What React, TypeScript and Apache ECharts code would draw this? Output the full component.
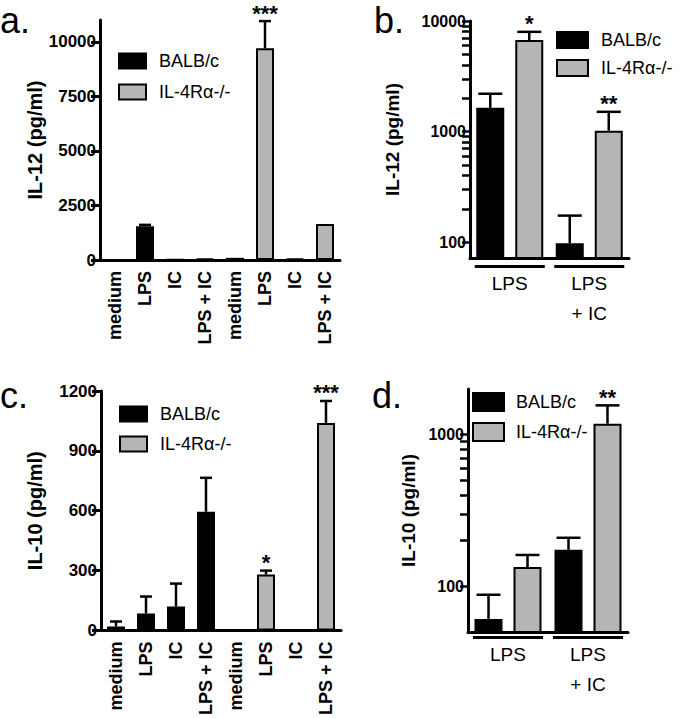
import React, { useEffect, useRef } from "react";
import * as echarts from "echarts";

const FONT = '"Liberation Sans", Arial, Helvetica, sans-serif';
const GREY = "#b5b5b5";

// Panel a: IL-12 (linear)
const catsAC = ["medium", "LPS", "IC", "LPS + IC", "medium", "LPS", "IC", "LPS + IC"];
const il12BalbA = [null, 1550, 30, 60, null, null, null, null];
const il12BalbAErr = [null, 1610, null, null, null, null, null, null];
const il12KoA = [null, null, null, null, 100, 9700, 60, 1650];
const il12KoAErr = [null, null, null, null, null, 10950, null, null];
const il12StarsA = ["", "", "", "", "", "***", "", ""];
const ticksA = [0, 2500, 5000, 7500, 10000];

// Panel b: IL-12 (log)
const catsBD = ["LPS", "LPS + IC"];
const il12BalbB = [1640, 98];
const il12BalbBErr = [2200, 174];
const il12KoB = [6730, 1020];
const il12KoBErr = [7980, 1510];
const il12StarsB = ["*", "**"];
const majorB = [100, 1000, 10000];
const minorB = [200, 300, 400, 500, 600, 700, 800, 900, 2000, 3000, 4000, 5000, 6000, 7000, 8000, 9000];

// Panel c: IL-10 (linear)
const il10BalbC = [20, 85, 120, 595, null, null, null, null];
const il10BalbCErr = [45, 170, 235, 765, null, null, null, null];
const il10KoC = [null, null, null, null, null, 280, null, 1040];
const il10KoCErr = [null, null, null, null, null, 300, null, 1150];
const il10StarsC = ["", "", "", "", "", "*", "", "***"];

// Panel d: IL-10 (log)
const il10BalbD = [61, 174];
const il10BalbDErr = [88, 209];
const il10KoD = [134, 1180];
const il10KoDErr = [161, 1560];
const il10StarsD = ["", "**"];
const majorD = [100, 1000];
const minorD = [200, 300, 400, 500, 600, 700, 800, 900];

const NAMES = ["BALB/c", "IL-4R\u03b1-/-"];

function toBar(arr: (number | null)[]) {
  return arr.map((v) => (v == null ? "-" : v));
}

function errRows(means: (number | null)[], errs: (number | null)[], side: number) {
  const rows: number[][] = [];
  means.forEach((m, i) => {
    if (m != null && errs[i] != null) rows.push([i, m, errs[i] as number, side]);
  });
  return rows;
}

function starRows(means: (number | null)[], errs: (number | null)[], stars: string[], side: number) {
  const rows: any[] = [];
  means.forEach((m, i) => {
    if (stars[i]) rows.push([i, (errs[i] ?? m) as number, side, stars[i]]);
  });
  return rows;
}

function errSeries(xi: number, yi: number, rows: number[][], offset: number, capW: number) {
  return {
    type: "custom",
    xAxisIndex: xi,
    yAxisIndex: yi,
    silent: true,
    z: 5,
    encode: { x: 0, y: [1, 2] },
    data: rows,
    renderItem: (params: any, api: any) => {
      const x = api.value(0);
      const p0 = api.coord([x, api.value(1)]);
      const p1 = api.coord([x, api.value(2)]);
      const cx = p0[0] + api.value(3) * offset;
      return {
        type: "group",
        children: [
          { type: "line", shape: { x1: cx, y1: p0[1], x2: cx, y2: p1[1] }, style: { stroke: "#000", lineWidth: 2.5 } },
          { type: "line", shape: { x1: cx - capW / 2, y1: p1[1], x2: cx + capW / 2, y2: p1[1] }, style: { stroke: "#000", lineWidth: 2.5 } },
        ],
      };
    },
  };
}

function starSeries(xi: number, yi: number, rows: any[], offset: number) {
  return {
    type: "custom",
    xAxisIndex: xi,
    yAxisIndex: yi,
    silent: true,
    z: 6,
    encode: { x: 0, y: 1 },
    dimensions: ["x", "y", "side", { name: "s", type: "ordinal" }],
    data: rows,
    renderItem: (params: any, api: any) => {
      const x = api.value(0);
      const p = api.coord([x, api.value(1)]);
      const cx = p[0] + api.value(2) * offset;
      return {
        type: "text",
        x: cx,
        y: p[1] - 8,
        style: {
          text: rows[params.dataIndex][3],
          font: `bold 22px ${FONT}`,
          fill: "#000",
          align: "center",
          verticalAlign: "middle",
        },
      };
    },
  };
}

const fmtNum = (v: number) => String(Math.round(v));

function barSeries(name: string, xi: number, yi: number, data: any[], color: string, extra: any) {
  return {
    type: "bar",
    name,
    xAxisIndex: xi,
    yAxisIndex: yi,
    data,
    itemStyle: { color, borderColor: "#000", borderWidth: 2 },
    ...extra,
  };
}

function linearX(gi: number) {
  return {
    type: "category",
    gridIndex: gi,
    data: catsAC,
    axisLine: { lineStyle: { color: "#000", width: 3 } },
    axisTick: { alignWithLabel: true, length: 7, lineStyle: { color: "#000", width: 3 } },
    axisLabel: { rotate: 90, interval: 0, margin: 11, color: "#000", fontWeight: 700, fontSize: 18, fontFamily: FONT },
    splitLine: { show: false },
  };
}

function groupX(gi: number, margin: number) {
  return {
    type: "category",
    gridIndex: gi,
    data: catsBD,
    axisLine: { lineStyle: { color: "#000", width: 3 } },
    axisTick: { show: false },
    axisLabel: {
      interval: 0,
      margin,
      color: "#000",
      formatter: (v: string) => {
        const parts = v.split(" + ");
        return "{u|}\n" + parts.map((p, i) => (i === 0 ? `{t|${p}}` : `{t|+ ${p}}`)).join("\n");
      },
      rich: {
        u: { width: 70, height: 3, lineHeight: 3, backgroundColor: "#000" },
        t: { fontSize: 19, lineHeight: 30, fontFamily: FONT, color: "#000" },
      },
    },
  };
}

function legendAt(left: number, top: number, w: number, h: number, gap: number, textPad: number) {
  return {
    data: NAMES,
    orient: "vertical",
    left,
    top,
    padding: 0,
    itemWidth: w,
    itemHeight: h,
    itemGap: gap,
    icon: "rect",
    selectedMode: false,
    itemStyle: { borderColor: "#000", borderWidth: 2 },
    textStyle: { fontSize: 18, color: "#000", fontFamily: FONT, padding: [0, 0, 0, textPad] },
  };
}

const nameStyle = (size: number) => ({ fontWeight: 700, fontSize: size, color: "#000", fontFamily: FONT });
const tickLabel = (size: number) => ({ color: "#000", fontWeight: 700, fontSize: size, fontFamily: FONT, margin: 4 });

export default function App() {
  const ref = useRef<HTMLDivElement>(null);
  useEffect(() => {
    if (!ref.current) return;
    const chart = echarts.init(ref.current, null, { renderer: "svg" });
    const BW = 28;
    const GAP = 11;
    const OFF = (BW + GAP) / 2;
    const option: any = {
      animation: false,
      backgroundColor: "#fff",
      textStyle: { fontFamily: FONT },
      grid: [
        { left: 100, top: 20, width: 240, height: 240 },
        { left: 470, top: 21, width: 159, height: 237 },
        { left: 101, top: 391, width: 240, height: 240 },
        { left: 468, top: 389, width: 160, height: 243 },
      ],
      xAxis: [linearX(0), groupX(1, 7), linearX(2), groupX(3, 4)],
      yAxis: [
        {
          type: "value",
          gridIndex: 0,
          min: 0,
          max: 11000,
          name: "IL-12 (pg/ml)",
          nameLocation: "middle",
          nameGap: 55,
          nameTextStyle: nameStyle(20),
          axisLine: { show: true, lineStyle: { color: "#000", width: 3 } },
          axisTick: { show: true, length: 9, customValues: ticksA, lineStyle: { color: "#000", width: 3 } },
          axisLabel: { ...tickLabel(17), customValues: ticksA, formatter: fmtNum },
          splitLine: { show: false },
        },
        {
          type: "log",
          gridIndex: 1,
          min: 72,
          max: 10000,
          name: "IL-12 (pg/ml)",
          nameLocation: "middle",
          nameGap: 68,
          nameTextStyle: nameStyle(19),
          axisLine: { show: true, lineStyle: { color: "#000", width: 3 } },
          axisTick: { show: true, length: 8, customValues: [...majorB, ...minorB].sort((p, q) => p - q), lineStyle: { color: "#000", width: 2.5 } },
          axisLabel: { ...tickLabel(16), customValues: majorB, formatter: fmtNum },
          splitLine: { show: false },
        },
        {
          type: "value",
          gridIndex: 2,
          min: 0,
          max: 1200,
          interval: 300,
          name: "IL-10 (pg/ml)",
          nameLocation: "middle",
          nameGap: 56,
          nameTextStyle: nameStyle(20),
          axisLine: { show: true, lineStyle: { color: "#000", width: 3 } },
          axisTick: { show: true, length: 9, lineStyle: { color: "#000", width: 3 } },
          axisLabel: { ...tickLabel(17), formatter: fmtNum },
          splitLine: { show: false },
        },
        {
          type: "log",
          gridIndex: 3,
          min: 50,
          max: 2000,
          name: "IL-10 (pg/ml)",
          nameLocation: "middle",
          nameGap: 50,
          nameTextStyle: nameStyle(19),
          axisLine: { show: true, lineStyle: { color: "#000", width: 3 } },
          axisTick: { show: true, length: 8, customValues: [...majorD, ...minorD].sort((p, q) => p - q), lineStyle: { color: "#000", width: 2.5 } },
          axisLabel: { ...tickLabel(16), customValues: majorD, formatter: fmtNum },
          splitLine: { show: false },
        },
      ],
      legend: [
        legendAt(118, 52, 27, 15, 13, 8),
        legendAt(556, 31, 31, 16, 10, 8),
        legendAt(119, 405, 27, 15, 12, 8),
        legendAt(472, 392, 31, 18, 10, 7),
      ],
      graphic: [
        { type: "text", left: 0, top: 2, style: { text: "a.", font: `36px ${FONT}`, fill: "#000" } },
        { type: "text", left: 374, top: 2, style: { text: "b.", font: `36px ${FONT}`, fill: "#000" } },
        { type: "text", left: 0, top: 377, style: { text: "c.", font: `36px ${FONT}`, fill: "#000" } },
        { type: "text", left: 372, top: 377, style: { text: "d.", font: `36px ${FONT}`, fill: "#000" } },
      ],
      series: [
        // a
        barSeries(NAMES[0], 0, 0, toBar(il12BalbA), "#000", { barWidth: 18, barGap: "-100%" }),
        barSeries(NAMES[1], 0, 0, toBar(il12KoA), GREY, { barWidth: 18, barGap: "-100%" }),
        errSeries(0, 0, [...errRows(il12BalbA, il12BalbAErr, 0), ...errRows(il12KoA, il12KoAErr, 0)], 0, 12),
        starSeries(0, 0, starRows(il12KoA, il12KoAErr, il12StarsA, 0), 0),
        // b
        barSeries(NAMES[0], 1, 1, il12BalbB, "#000", { barWidth: BW, barGap: `${(GAP / BW) * 100}%` }),
        barSeries(NAMES[1], 1, 1, il12KoB, GREY, { barWidth: BW, barGap: `${(GAP / BW) * 100}%` }),
        errSeries(1, 1, [...errRows(il12BalbB, il12BalbBErr, -1), ...errRows(il12KoB, il12KoBErr, 1)], OFF, 24),
        starSeries(1, 1, starRows(il12KoB, il12KoBErr, il12StarsB, 1), OFF),
        // c
        barSeries(NAMES[0], 2, 2, toBar(il10BalbC), "#000", { barWidth: 18, barGap: "-100%" }),
        barSeries(NAMES[1], 2, 2, toBar(il10KoC), GREY, { barWidth: 18, barGap: "-100%" }),
        errSeries(2, 2, [...errRows(il10BalbC, il10BalbCErr, 0), ...errRows(il10KoC, il10KoCErr, 0)], 0, 12),
        starSeries(2, 2, starRows(il10KoC, il10KoCErr, il10StarsC, 0), 0),
        // d
        barSeries(NAMES[0], 3, 3, il10BalbD, "#000", { barWidth: BW, barGap: `${(GAP / BW) * 100}%` }),
        barSeries(NAMES[1], 3, 3, il10KoD, GREY, { barWidth: BW, barGap: `${(GAP / BW) * 100}%` }),
        errSeries(3, 3, [...errRows(il10BalbD, il10BalbDErr, -1), ...errRows(il10KoD, il10KoDErr, 1)], OFF, 24),
        starSeries(3, 3, starRows(il10KoD, il10KoDErr, il10StarsD, 1), OFF),
      ],
    };
    chart.setOption(option);
    return () => chart.dispose();
  }, []);
  return (
    <div
      ref={ref}
      style={{ position: "absolute", left: 0, top: 0, width: 683, height: 718, background: "#fff" }}
    />
  );
}
